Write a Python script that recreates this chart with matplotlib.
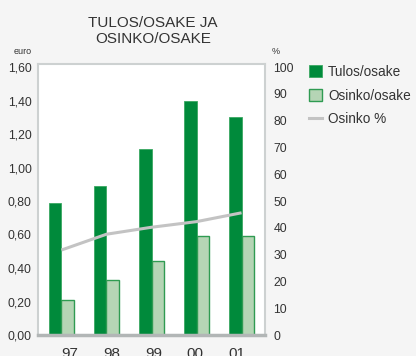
import matplotlib
matplotlib.use("Agg")
import matplotlib.pyplot as plt
import numpy as np
from matplotlib.lines import Line2D

# Data
years = ["97", "98", "99", "00", "01"]
tulos = [0.79, 0.89, 1.11, 1.40, 1.30]          # Tulos/osake, euro
osinko = [0.21, 0.33, 0.44, 0.59, 0.59]         # Osinko/osake, euro
osinko_pct = [31.7, 37.6, 40.2, 42.3, 45.6]     # Osinko %
euro_ticks = [0.0, 0.2, 0.4, 0.6, 0.8, 1.0, 1.2, 1.4, 1.6]
pct_ticks = [0, 10, 20, 30, 40, 50, 60, 70, 80, 90, 100]

BG = "#f5f5f5"
TXT = "#333333"
DARK_GREEN = "#008a3b"
LIGHT_GREEN = "#b5d5b5"
EDGE_GREEN = "#2f9b52"
LINE_GRAY = "#c3c3c3"
FRAME = "#cdd1d1"

plt.rcParams["font.family"] = ["Liberation Sans", "DejaVu Sans"]

W, H = 416, 356
fig = plt.figure(figsize=(W / 100, H / 100), dpi=100, facecolor=BG)
ax = fig.add_axes([38 / W, 21 / H, 227 / W, 271 / H])
ax.set_facecolor("white")

x = np.arange(len(years))
bw = 0.28
b1 = ax.bar(x - bw / 2, tulos, bw, color=DARK_GREEN, edgecolor="#3aa862",
            linewidth=0.6, zorder=3, label="Tulos/osake")
b2 = ax.bar(x + bw / 2, osinko, bw, color=LIGHT_GREEN, edgecolor=EDGE_GREEN,
            linewidth=1.0, zorder=3, label="Osinko/osake")

ytop = 1.6 * 271 / 268
ax.set_ylim(0, ytop)
ax.set_xlim(-0.52, 4.52)
ax.set_yticks(euro_ticks)
ax.set_yticklabels([f"{v:.2f}".replace(".", ",") for v in euro_ticks])
ax.tick_params(axis="y", length=0, pad=4.5, labelsize=8.8, labelcolor=TXT)

# category labels sit on their own evenly spaced positions
xt = 0.19 + 0.925 * x
ax.set_xticks(xt)
ax.set_xticklabels(years)
ax.tick_params(axis="x", length=0, pad=8.5, labelsize=11, labelcolor=TXT)

for s in ["top", "left", "right"]:
    ax.spines[s].set_color(FRAME)
    ax.spines[s].set_linewidth(1.5)
ax.spines["bottom"].set_color("#b2b6b6")
ax.spines["bottom"].set_linewidth(2.5)
ax.spines["bottom"].set_zorder(5)

ax2 = ax.twinx()
ax2.set_ylim(0, 100 * 271 / 268)
ax2.set_yticks(pct_ticks)
ax2.tick_params(axis="y", length=0, pad=6, labelsize=8.8, labelcolor=TXT)
for s in ax2.spines.values():
    s.set_visible(False)
ln, = ax2.plot(x, osinko_pct, color=LINE_GRAY, linewidth=2.2,
               solid_capstyle="butt", zorder=4, label="Osinko %")

fig.text(153 / W, 1 - 31 / H, "TULOS/OSAKE JA\nOSINKO/OSAKE", ha="center",
         va="center", fontsize=11, color=TXT, linespacing=1.15)
fig.text(32 / W, 1 - 52 / H, "euro", ha="right", va="center", fontsize=6.5,
         color=TXT)
fig.text(272 / W, 1 - 51 / H, "%", ha="left", va="center", fontsize=6.5,
         color=TXT)

leg_line = Line2D([], [], color=LINE_GRAY, linewidth=2.2)
fig.legend([b1, b2, leg_line], ["Tulos/osake", "Osinko/osake", "Osinko %"],
           loc="upper left", bbox_to_anchor=(309 / W, 1 - 65 / H),
           frameon=False, prop={"size": 9.8},
           labelcolor=TXT, handlelength=0.95, handleheight=0.95,
           handletextpad=0.45, labelspacing=0.7, borderaxespad=0,
           borderpad=0)

fig.savefig("out.png", dpi=100, facecolor=BG)
